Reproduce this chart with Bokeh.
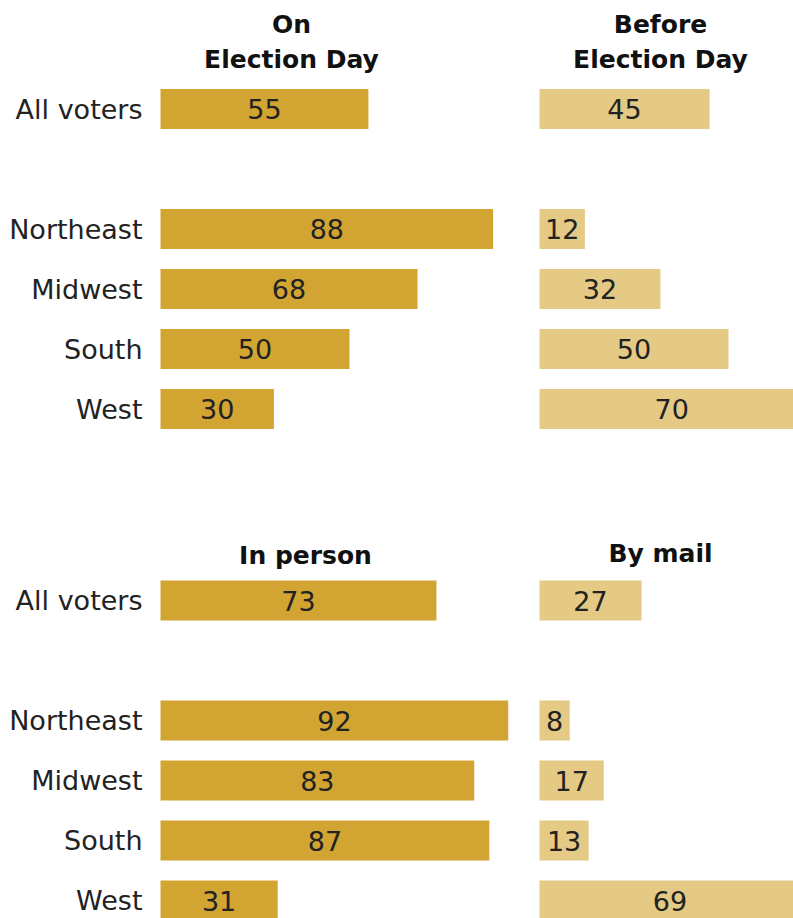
from bokeh.plotting import figure
from bokeh.models import Range1d, ColumnDataSource
from bokeh.core.properties import value
from bokeh.embed import file_html
from bokeh.resources import INLINE

# ---- data ----
regions = ["All voters", "Northeast", "Midwest", "South", "West"]
on_election_day = [55, 88, 68, 50, 30]
before_election_day = [45, 12, 32, 50, 70]
in_person = [73, 92, 83, 87, 31]
by_mail = [27, 8, 17, 13, 69]
headers_top_line1 = ["On", "Before"]
headers_top_line2 = ["Election Day", "Election Day"]
headers_bottom = ["In person", "By mail"]

DARK = "#D2A533"
LIGHT = "#E4CA84"
TXT = "#222222"
FONT = "DejaVu Sans"

W, H = 793, 918
PX_PER_UNIT = 3.78
left_px = 160
x0 = -left_px / PX_PER_UNIT
x1 = x0 + W / PX_PER_UNIT
right_offset = (539 - left_px) / PX_PER_UNIT  # start of second column (in value units)

p = figure(width=W, height=H, output_backend="svg", toolbar_location=None,
           x_range=Range1d(x0, x1), y_range=Range1d(H, 0),
           min_border=0, outline_line_color=None, background_fill_color="white",
           border_fill_color="white")
p.axis.visible = False
p.grid.visible = False

row_offsets = [0, 120, 180, 240, 300]
section_bases = [108.5, 600]
sections = [
    (on_election_day, before_election_day),
    (in_person, by_mail),
]

for base, (left_vals, right_vals) in zip(section_bases, sections):
    ys = [base + o for o in row_offsets]
    src_l = ColumnDataSource(dict(y=ys, v=left_vals, c=[v / 2 for v in left_vals],
                                  t=[str(v) for v in left_vals], lab=regions))
    src_r = ColumnDataSource(dict(y=ys, l=[right_offset] * len(ys),
                                  r=[right_offset + v for v in right_vals],
                                  c=[right_offset + v / 2 for v in right_vals],
                                  t=[str(v) for v in right_vals]))
    p.hbar(y="y", left=0, right="v", height=40, fill_color=DARK, line_color=None, source=src_l)
    p.hbar(y="y", left="l", right="r", height=40, fill_color=LIGHT, line_color=None, source=src_r)
    for src in (src_l, src_r):
        p.text(x="c", y="y", text="t", source=src, text_align="center", text_baseline="middle",
               text_font=value(FONT), text_font_size="27px", text_color=TXT)
    p.text(x=0, y="y", text="lab", source=src_l, x_offset=-18, text_align="right",
           text_baseline="middle", text_font=value(FONT), text_font_size="27px", text_color=TXT)

# headers
hx_left = (291 - left_px) / PX_PER_UNIT
hx_right = (660 - left_px) / PX_PER_UNIT
hdr = dict(text_align="center", text_baseline="middle", text_font=value(FONT),
           text_font_style="bold", text_font_size="25px", text_color="#111111")
p.text(x=[hx_left, hx_right], y=[24, 24], text=headers_top_line1, **hdr)
p.text(x=[hx_left, hx_right], y=[59, 59], text=headers_top_line2, **hdr)
p.text(x=[(305 - left_px) / PX_PER_UNIT, hx_right], y=[555, 553], text=headers_bottom, **hdr)

open("out.html", "w").write(file_html(p, INLINE))
